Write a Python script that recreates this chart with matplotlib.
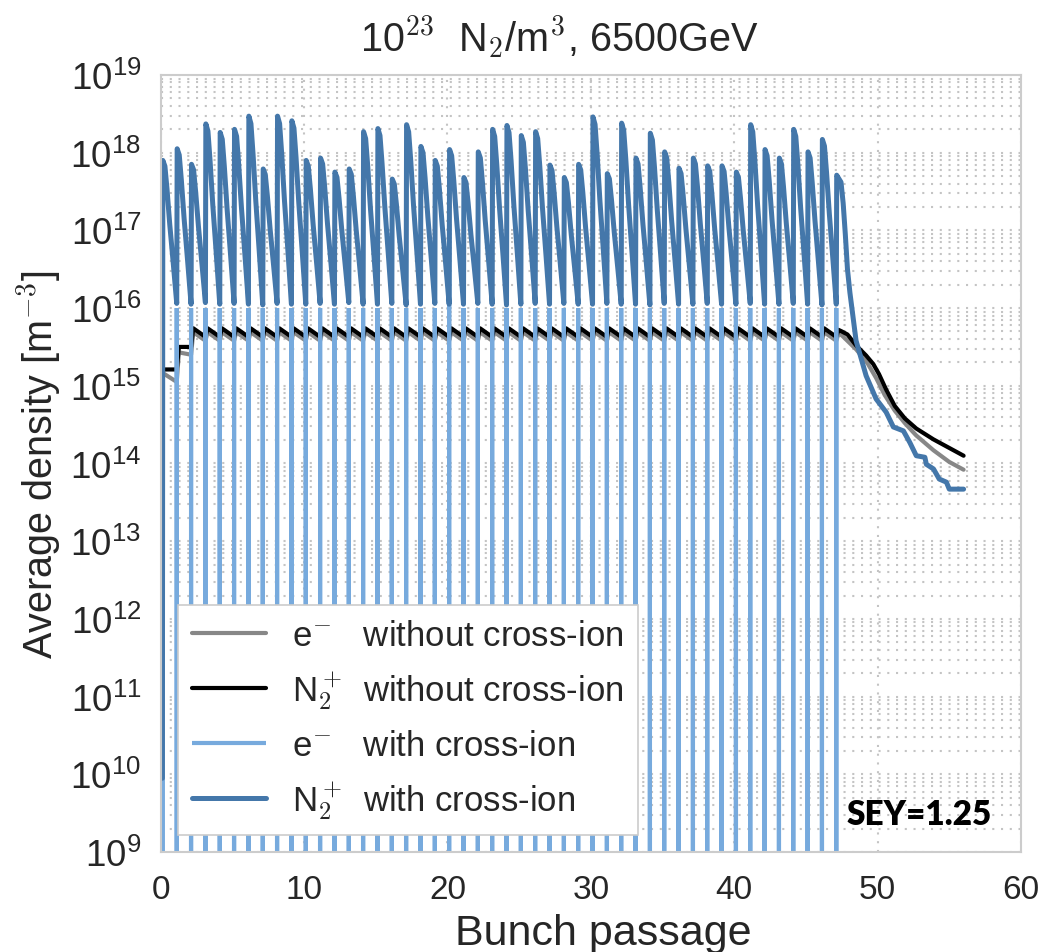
import numpy as np
import matplotlib
matplotlib.use('Agg')
import matplotlib.pyplot as plt
from matplotlib.ticker import LogLocator, NullFormatter, FixedLocator

plt.rcParams['font.family'] = ['Liberation Sans', 'DejaVu Sans']
plt.rcParams['mathtext.fontset'] = 'cm'

# ---------------- data (log10 of density in m^-3) ----------------
bunch_offset = 0.12
bunch_index = np.arange(48)

# N2+ with cross-ion: peak right after each bunch, trough right before next bunch
n2_cross_peak = [17.90, 18.05, 17.85, 18.37, 18.26, 18.30, 18.47, 17.79, 18.47, 18.41,
                 17.90, 17.93, 17.75, 17.79, 18.27, 18.31, 17.66, 18.36, 18.08, 17.90,
                 18.04, 17.68, 18.01, 18.30, 18.35, 18.22, 18.27, 17.84, 17.68, 17.85,
                 18.46, 17.73, 18.38, 17.93, 18.25, 18.01, 17.80, 17.93, 17.83, 17.83,
                 17.75, 18.36, 18.04, 17.93, 18.30, 18.01, 18.17, 17.71]
n2_cross_trough = [16.06, 16.05, 16.07, 16.05, 16.06, 16.05, 16.04, 16.06, 16.05, 16.05,
                   16.06, 16.05, 16.07, 16.05, 16.05, 16.06, 16.04, 16.05, 16.06, 16.05,
                   16.05, 16.06, 16.05, 16.04, 16.05, 16.06, 16.05, 16.06, 16.05, 16.05,
                   16.06, 16.05, 16.05, 16.04, 16.06, 16.05, 16.05, 16.06, 16.05, 16.05,
                   16.06, 16.05, 16.05, 16.06, 16.05, 16.04, 16.05]
n2_cross_start = 9.95
n2_cross_tail_x = [47.45, 47.6, 47.75, 47.9, 48.07, 48.5, 49.2, 49.9, 50.6, 51.1, 51.8,
                   52.25, 52.7, 53.3, 53.4, 53.9, 54.3, 54.8, 55.0, 56.0]
n2_cross_tail = [17.62, 17.35, 16.95, 16.5, 16.2, 15.58, 15.13, 14.83, 14.66, 14.47, 14.42,
                 14.27, 14.10, 14.08, 13.99, 13.93, 13.80, 13.76, 13.67, 13.67]

# e- with cross-ion: short spike at each bunch passage, ~0 in between
e_cross_peak = [16.0, 16.0, 16.0, 16.0, 16.0, 16.0, 16.0, 16.0, 16.0, 16.0,
                16.0, 16.0, 16.0, 16.0, 16.0, 16.0, 16.0, 16.0, 16.0, 16.0,
                17.08, 16.0, 16.0, 16.0, 16.0, 16.0, 16.0, 16.0, 16.0, 16.0,
                16.0, 16.0, 16.0, 16.0, 16.0, 16.0, 16.0, 16.0, 16.0, 16.0,
                16.0, 16.0, 16.0, 16.0, 16.0, 16.0, 16.0, 16.0]
e_cross_floor = 3.0

# N2+ without cross-ion
n2_nocross_peak = [15.21, 15.50] + [15.74] * 45 + [15.72]
n2_nocross_trough = [15.21, 15.50] + [15.63] * 45
n2_nocross_tail_x = [47.5, 47.9, 48.5, 49.2, 49.7, 50.1, 50.6, 51.2, 51.9, 52.7, 53.9, 55.0, 56.0]
n2_nocross_tail = [15.70, 15.66, 15.52, 15.39, 15.28, 15.15, 14.95, 14.74, 14.58, 14.45, 14.31, 14.20, 14.10]

# e- without cross-ion
e_nocross_peak = [15.15, 15.43] + [15.69] * 45 + [15.67]
e_nocross_trough = [15.05, 15.40] + [15.58] * 45
e_nocross_tail_x = [47.5, 48.5, 49.3, 49.9, 50.5, 51.2, 51.9, 52.7, 53.9, 55.0, 56.0]
e_nocross_tail = [15.65, 15.47, 15.29, 15.10, 14.88, 14.68, 14.52, 14.36, 14.17, 14.02, 13.92]

x_ticks = [0, 10, 20, 30, 40, 50, 60]
y_ticks = [1e9, 1e10, 1e11, 1e12, 1e13, 1e14, 1e15, 1e16, 1e17, 1e18, 1e19]

COL_GRAY = '#878787'
COL_BLACK = '#000000'
COL_LIGHT = '#77aadd'
COL_DARK = '#4477aa'

# shape of one decay period (fraction of period, fraction of drop) - styling only
decay_shape_t = [0.15, 0.3, 0.5, 0.75]
decay_shape_f = [0.04, 0.2, 0.45, 0.72]


def sawtooth(times, peaks, troughs, rise, tail_x, tail_y, start=None, shaped=False):
    xs, ys = [], []
    if start is not None:
        xs.append(times[0]); ys.append(start)
    n = len(times)
    for k, t in enumerate(times):
        if k > 0:
            xs.append(t); ys.append(troughs[k - 1])
        xs.append(t + rise); ys.append(peaks[k])
        if shaped and k < n - 1:
            span = times[k + 1] - t
            drop = peaks[k] - troughs[k]
            for ft, ff in zip(decay_shape_t, decay_shape_f):
                xs.append(t + rise + ft * (span - rise)); ys.append(peaks[k] - ff * drop)
    xs += list(tail_x); ys += list(tail_y)
    return np.array(xs), 10.0 ** np.array(ys)


def spikes(times, peaks, floor, half_width=0.01):
    xs, ys = [], []
    for t, p in zip(times, peaks):
        xs += [t - half_width, t, t + half_width]
        ys += [floor, p, floor]
    return np.array(xs), 10.0 ** np.array(ys)


bunch_times = bunch_index + bunch_offset

x_en, y_en = sawtooth(bunch_times, e_nocross_peak, e_nocross_trough, 0.15,
                      e_nocross_tail_x, e_nocross_tail)
x_nn, y_nn = sawtooth(bunch_times, n2_nocross_peak, n2_nocross_trough, 0.15,
                      n2_nocross_tail_x, n2_nocross_tail)
x_ec, y_ec = spikes(bunch_times, e_cross_peak, e_cross_floor)
x_nc, y_nc = sawtooth(bunch_times, n2_cross_peak, n2_cross_trough, 0.03,
                      n2_cross_tail_x, n2_cross_tail, start=n2_cross_start, shaped=True)

fig = plt.figure(figsize=(10.42, 9.53), dpi=100)
ax = fig.add_axes([0.1542, 0.1049, 0.8256, 0.8154])

lw = 3.0
ax.plot(x_en, y_en, color=COL_GRAY, lw=lw, label=r'e$^{-}$   without cross-ion',
        solid_joinstyle='round', solid_capstyle='round')
ax.plot(x_nn, y_nn, color=COL_BLACK, lw=lw, label=r'N$_2^+$ $\,$without cross-ion',
        solid_joinstyle='round', solid_capstyle='round')
ax.plot(x_ec, y_ec, color=COL_LIGHT, lw=lw, label=r'e$^{-}$   with cross-ion',
        solid_joinstyle='miter', solid_capstyle='butt')
ax.plot(x_nc, y_nc, color=COL_DARK, lw=3.6, label=r'N$_2^+$ $\,$with cross-ion',
        solid_joinstyle='round', solid_capstyle='round')

ax.set_yscale('log')
ax.set_xlim(0, 60)
ax.set_ylim(1e9, 1e19)
ax.xaxis.set_major_locator(FixedLocator(x_ticks))
ax.yaxis.set_major_locator(FixedLocator(y_ticks))
ax.yaxis.set_minor_locator(LogLocator(base=10, subs=np.arange(2, 10), numticks=50))
ax.yaxis.set_minor_formatter(NullFormatter())

grid_kw = dict(color='#c4c4c4', linewidth=1.5, linestyle=(0, (1, 3.2)))
ax.grid(True, which='major', axis='both', **grid_kw)
ax.grid(True, which='minor', axis='y', **grid_kw)
ax.set_axisbelow(True)

for s in ax.spines.values():
    s.set_color('#cccccc')
    s.set_linewidth(1.5)

ax.tick_params(which='both', length=0, colors='#262626')
ax.tick_params(axis='x', pad=16, labelsize=24)
ax.tick_params(axis='y', pad=14, labelsize=26.5)

ax.set_xlabel('Bunch passage', fontsize=31, color='#262626')
ax.xaxis.set_label_coords(0.515, -0.078)
ax.set_ylabel(r'Average density [m$^{-3}$]', fontsize=28.5, color='#262626')
ax.yaxis.set_label_coords(-0.113, 0.5)

fig.text(0.5365, 0.96, r'10$^{23}$  N$_2$/m$^3$, 6500GeV', fontsize=28.5,
         color='#262626', ha='center', va='center')

leg = ax.legend(loc='lower left', bbox_to_anchor=(0.02, 0.022), borderaxespad=0,
                fontsize=25, frameon=True, fancybox=False, handlelength=2.15,
                handletextpad=0.75, borderpad=0.4, labelspacing=0.5)
leg.get_frame().set_edgecolor('#cccccc')
leg.get_frame().set_linewidth(1.2)
leg.get_frame().set_alpha(1.0)
for t in leg.get_texts():
    t.set_color('#262626')

ax.text(0.966, 0.049, 'SEY=1.25', transform=ax.transAxes, fontsize=24,
        fontweight='heavy', family=['Lato', 'DejaVu Sans'], ha='right', va='center',
        color='black')

fig.savefig('out.png', dpi=100)
